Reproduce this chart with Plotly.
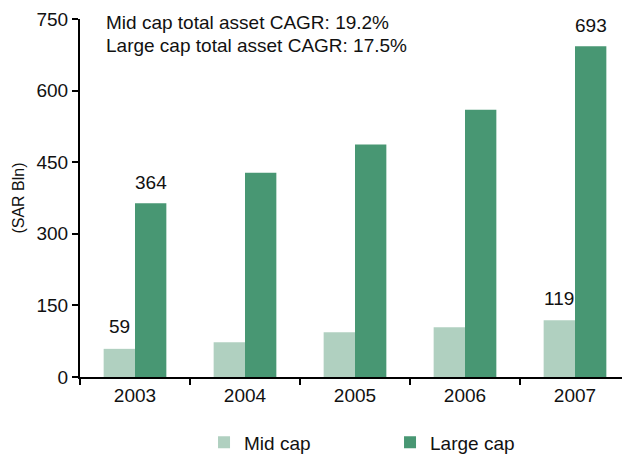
import plotly.graph_objects as go

years = ["2003", "2004", "2005", "2006", "2007"]
mid_cap = [59, 73, 94, 104, 119]
large_cap = [364, 428, 487, 560, 693]
mid_labels = ["59", "", "", "", "119"]
large_labels = ["364", "", "", "", "693"]
y_ticks = [0, 150, 300, 450, 600, 750]
notes = ["Mid cap total asset CAGR: 19.2%", "Large cap total asset CAGR: 17.5%"]

MID_COLOR = "#b0d0c0"
LARGE_COLOR = "#489773"
FONT = "Liberation Sans, Arial, sans-serif"
FS = 19

fig = go.Figure()
fig.add_trace(go.Bar(x=years, y=mid_cap, name="Mid cap", marker=dict(color=MID_COLOR, line=dict(width=0))))
fig.add_trace(go.Bar(x=years, y=large_cap, name="Large cap", marker=dict(color=LARGE_COLOR, line=dict(width=0))))

annotations = []
for i, (v, lab) in enumerate(zip(mid_cap, mid_labels)):
    if lab:
        annotations.append(dict(x=i, y=v, text=lab, showarrow=False, xshift=-16, yshift=22,
                                yanchor="middle", font=dict(size=FS, color="#111111", family=FONT)))
for i, (v, lab) in enumerate(zip(large_cap, large_labels)):
    if lab:
        annotations.append(dict(x=i, y=v, text=lab, showarrow=False, xshift=16, yshift=21,
                                yanchor="middle", font=dict(size=FS, color="#111111", family=FONT)))
for i, note in enumerate(notes):
    annotations.append(dict(xref="paper", yref="paper", x=0.043, y=[0.9916, 0.9246][i], text=note,
                            showarrow=False, xanchor="left", yanchor="middle",
                            font=dict(size=FS, color="#111111", family=FONT)))

# page body has an 8px margin; figure is sized so that it ends at the window edges
fig.update_layout(
    width=622, height=446,
    margin=dict(l=72, r=0, t=11, b=77, autoexpand=False),
    paper_bgcolor="white", plot_bgcolor="white",
    barmode="group", bargap=0.43, bargroupgap=0,
    font=dict(family=FONT, size=FS, color="#111111"),
    annotations=annotations,
    showlegend=True,
    legend=dict(orientation="h", x=0.2255, xanchor="left", y=-0.183, yanchor="middle",
                font=dict(size=FS, family=FONT, color="#111111"), itemwidth=30,
                entrywidth=141, bgcolor="rgba(0,0,0,0)"),
    xaxis=dict(type="category", range=[-0.5, 4.5], autorange=False, automargin=False,
               showline=True, linecolor="black", linewidth=2, ticks="outside",
               tickson="boundaries", ticklen=6, tickwidth=2, tickcolor="black", showgrid=False,
               tickfont=dict(size=FS, family=FONT, color="#111111")),
    yaxis=dict(range=[0, 750], autorange=False, automargin=False, tickvals=y_ticks,
               showline=True, linecolor="black", linewidth=2,
               ticks="outside", ticklen=6, tickwidth=2, tickcolor="black", showgrid=False, zeroline=False,
               title=dict(text="(SAR Bln)", standoff=8, font=dict(size=16, family=FONT, color="#111111")),
               tickfont=dict(size=FS, family=FONT, color="#111111")),
)

fig.write_html("out.html")
